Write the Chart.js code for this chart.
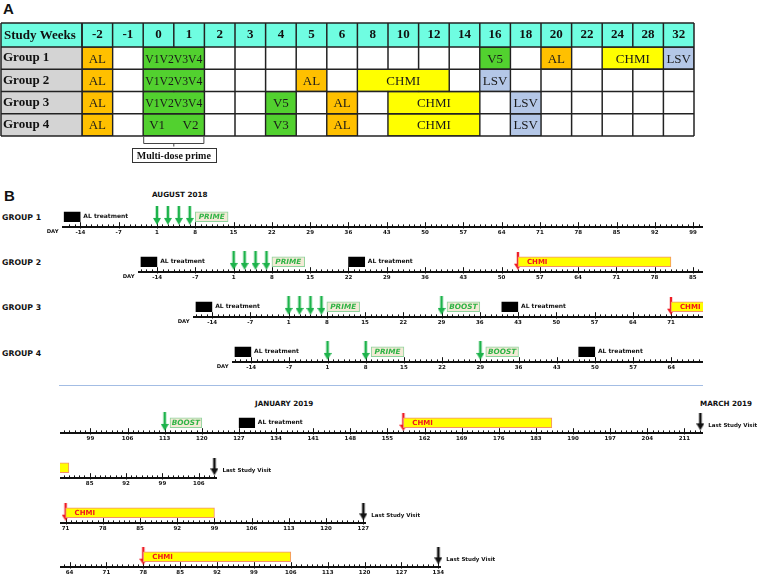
<!DOCTYPE html>
<html>
<head>
<meta charset="utf-8">
<script src="https://cdn.jsdelivr.net/npm/chart.js@4.4.1/dist/chart.umd.min.js"></script>
<style>
  body { margin: 0; background: #fff; }
  #page { position: relative; width: 763px; height: 586px; overflow: hidden; background: #fff; }
  #page canvas { position: absolute; left: 0; }
  .t { position: absolute; white-space: nowrap; font-weight: bold; color: #111; line-height: 1; font-family: 'DejaVu Sans', sans-serif; }
  .panel { font-family: 'Liberation Sans', Arial, sans-serif; font-size: 15px; }
  .grp { font-size: 7.8px; }
  .month { font-size: 7.2px; }
  #sep { position: absolute; left: 59px; top: 384.5px; width: 644px; height: 1.5px; background: #a3bde4; }
</style>
</head>
<body>
<div id="page">
  <div class="t panel" style="left:3px;top:0.7px;">A</div>
  <div class="t panel" style="left:4px;top:187.7px;">B</div>
  <div class="t month" style="left:152px;top:190.5px;">AUGUST 2018</div>
  <div class="t grp" style="left:2px;top:214.3px;">GROUP 1</div>
  <div class="t grp" style="left:2px;top:259.3px;">GROUP 2</div>
  <div class="t grp" style="left:2px;top:304.3px;">GROUP 3</div>
  <div class="t grp" style="left:2px;top:350.3px;">GROUP 4</div>
  <div id="sep"></div>
  <div class="t month" style="left:255px;top:399.5px;">JANUARY 2019</div>
  <div class="t month" style="left:700px;top:399.5px;">MARCH 2019</div>
</div>
<script>
// ---------- Panel A: schedule table (study weeks) ----------
const weeks = [-2, -1, 0, 1, 2, 3, 4, 5, 6, 8, 10, 12, 14, 16, 18, 20, 22, 24, 28, 32];
const groupsA = ['Group 1', 'Group 2', 'Group 3', 'Group 4'];
// [group, first week, last week, text]
const alCells = [
  ['Group 1', -2, -2, ['AL']], ['Group 1', 20, 20, ['AL']],
  ['Group 2', -2, -2, ['AL']], ['Group 2', 5, 5, ['AL']],
  ['Group 3', -2, -2, ['AL']], ['Group 3', 6, 6, ['AL']],
  ['Group 4', -2, -2, ['AL']], ['Group 4', 6, 6, ['AL']]
];
const vaccCells = [
  ['Group 1', 0, 1, ['V1V2V3V4']], ['Group 1', 16, 16, ['V5']],
  ['Group 2', 0, 1, ['V1V2V3V4']],
  ['Group 3', 0, 1, ['V1V2V3V4']], ['Group 3', 4, 4, ['V5']],
  ['Group 4', 0, 1, ['V1', 'V2']], ['Group 4', 4, 4, ['V3']]
];
const chmiCells = [
  ['Group 1', 24, 28, ['CHMI']], ['Group 2', 8, 12, ['CHMI']],
  ['Group 3', 10, 14, ['CHMI']], ['Group 4', 10, 14, ['CHMI']]
];
const lsvCells = [
  ['Group 1', 32, 32, ['LSV']], ['Group 2', 16, 16, ['LSV']],
  ['Group 3', 18, 18, ['LSV']], ['Group 4', 18, 18, ['LSV']]
];
const primeWeeks = [0, 1];

// ---------- Panel B: timelines (study days, no day 0) ----------
const alDays = [[[-17, -14], [127, 130]], [[-17, -14], [22, 25]], [[-17, -14], [40, 43]], [[-17, -14], [47, 50]]];
const vaccDays = [[1, 3, 5, 7, 113], [1, 3, 5, 7], [1, 3, 5, 7, 29], [1, 8, 29]];
const primeDays = [[8, 14], [8, 14], [8, 14], [9, 15]];
const boostDays = [[114, 120], null, [30, 36], [30, 36]];
const chmiDays = [[158, 186], [53, 81], [71, 99], [78, 106]];
const lastVisitDay = [214, 109, 127, 134];

// layout of the eight axis rows (axis range in axis units, pixels on the page)
const rowsB = [
  { g: 0, axisY: 227, from: -16.85, to: 99.3, left: 62, right: 703, day: true },
  { g: 1, axisY: 272, from: -17, to: 85.36, left: 138, right: 703, day: true },
  { g: 2, axisY: 317, from: -17, to: 75.36, left: 193, right: 703, day: true },
  { g: 3, axisY: 362, from: -17, to: 68.3, left: 232, right: 703, day: true },
  { g: 0, axisY: 433, from: 92.76, to: 213, left: 60, right: 703 },
  { g: 1, axisY: 478, from: 78.79, to: 108, left: 60, right: 217 },
  { g: 2, axisY: 523, from: 69.45, to: 126, left: 60, right: 366 },
  { g: 3, axisY: 567, from: 61.69, to: 133, left: 60, right: 441 }
];

const INK = '#111';
const LINE = '#222';
const HEADER_BG = '#6ffde1';
const LABEL_BG = '#d4d4d4';
const SANS = "'DejaVu Sans'";
const SERIF = "'Liberation Serif'";
const BOX_STYLE = {
  AL:    { fill: '#000000', border: '#000000' },
  PRIME: { fill: '#f3ead6', border: '#8fd39c' },
  BOOST: { fill: '#f3ead6', border: '#8fd39c' },
  CHMI:  { fill: '#ffff00', border: '#f3906c' }
};
const GREEN_TXT = '#2fb446';
const RED_TXT = '#f0141e';

const page = document.getElementById('page');
function addCanvas(top, w, h) {
  const c = document.createElement('canvas');
  c.width = w; c.height = h;
  c.style.top = top + 'px';
  c.style.width = w + 'px'; c.style.height = h + 'px';
  page.appendChild(c);
  return c;
}
function seg(ctx, x1, y1, x2, y2) {
  ctx.beginPath(); ctx.moveTo(x1, y1); ctx.lineTo(x2, y2); ctx.stroke();
}

// ================= Panel A =================
const TABLE_X = 1;
const tablePlugin = {
  id: 'tableGrid',
  beforeDraw(chart) {
    const { ctx, chartArea: a } = chart;
    const head = chart.scales.xTop;
    ctx.save();
    ctx.fillStyle = HEADER_BG;
    ctx.fillRect(TABLE_X, head.top, a.right - TABLE_X, head.bottom - head.top);
    ctx.fillStyle = LABEL_BG;
    ctx.fillRect(TABLE_X, a.top, a.left - TABLE_X, a.bottom - a.top);
    ctx.restore();
  },
  beforeDatasetsDraw(chart) {
    const { ctx, chartArea: a, scales: { x } } = chart;
    ctx.save();
    ctx.strokeStyle = LINE; ctx.lineWidth = 1.5;
    for (let i = 1; i < weeks.length; i++) {
      const px = x.getPixelForValue(i);
      seg(ctx, px, a.top, px, a.bottom);
    }
    ctx.restore();
  },
  afterDatasetsDraw(chart) {
    const { ctx, chartArea: a, scales: { x, y } } = chart;
    const head = chart.scales.xTop;
    ctx.save();
    // cell texts
    ctx.font = `13px ${SERIF}`;
    ctx.fillStyle = '#1a1a1a';
    ctx.textBaseline = 'middle';
    chart.data.datasets.forEach((ds, di) => {
      chart.getDatasetMeta(di).data.forEach((el, i) => {
        const text = ds.data[i].text;
        const l = Math.min(el.x, el.base), r = Math.max(el.x, el.base);
        if (text.length === 1) {
          ctx.textAlign = 'center';
          ctx.fillText(text[0], (l + r) / 2, el.y + 1, r - l - 4);
        } else {
          ctx.textAlign = 'left';
          ctx.fillText(text[0], l + 6, el.y + 1);
          ctx.textAlign = 'right';
          ctx.fillText(text[text.length - 1], r - 6, el.y + 1);
        }
      });
    });
    // lines that are never merged away
    ctx.strokeStyle = LINE; ctx.lineWidth = 1.5;
    for (let k = 0; k <= groupsA.length; k++) {
      const py = y.getPixelForValue(k - 0.5);
      seg(ctx, TABLE_X, py, a.right, py);
    }
    seg(ctx, TABLE_X, head.top, a.right, head.top);
    seg(ctx, TABLE_X, head.top, TABLE_X, a.bottom);
    seg(ctx, a.left, head.top, a.left, a.bottom);
    for (let i = 0; i <= weeks.length; i++) {
      const px = x.getPixelForValue(i);
      seg(ctx, px, head.top, px, (i === weeks.length) ? a.bottom : a.top);
    }
    // corner title
    ctx.font = `bold 13px ${SERIF}`;
    ctx.fillStyle = INK;
    ctx.textAlign = 'left';
    ctx.fillText('Study Weeks', TABLE_X + 3, (head.top + head.bottom) / 2 + 1);
    ctx.restore();
  },
  afterDraw(chart) {
    // bracket under the multi-dose prime columns
    const { ctx, chartArea: a, scales: { x } } = chart;
    const x0 = x.getPixelForValue(weeks.indexOf(primeWeeks[0]));
    const x1 = x.getPixelForValue(weeks.indexOf(primeWeeks[1]) + 1);
    const mid = (x0 + x1) / 2;
    ctx.save();
    ctx.strokeStyle = '#444'; ctx.lineWidth = 1;
    ctx.beginPath();
    ctx.moveTo(x0 + 0.5, a.bottom + 1); ctx.lineTo(x0 + 0.5, a.bottom + 7.5);
    ctx.lineTo(x1 - 0.5, a.bottom + 7.5); ctx.lineTo(x1 - 0.5, a.bottom + 1);
    ctx.moveTo(mid, a.bottom + 7.5); ctx.lineTo(mid, a.bottom + 10.5);
    ctx.stroke();
    ctx.font = `bold 10px ${SERIF}`;
    const w = ctx.measureText('Multi-dose prime').width + 10;
    ctx.strokeStyle = '#333';
    ctx.strokeRect(Math.round(mid - w / 2) + 0.5, a.bottom + 12.5, Math.round(w), 14);
    ctx.fillStyle = INK;
    ctx.textAlign = 'center'; ctx.textBaseline = 'middle';
    ctx.fillText('Multi-dose prime', mid, a.bottom + 20);
    ctx.restore();
  }
};

const cellSet = (cells, color) => ({
  data: cells.map(([g, a, b, text]) => ({ x: [weeks.indexOf(a), weeks.indexOf(b) + 1], y: g, text })),
  backgroundColor: color,
  borderColor: LINE,
  borderWidth: 1,
  borderSkipped: false,
  barPercentage: 1,
  categoryPercentage: 1,
  grouped: false
});

new Chart(addCanvas(21, 700, 148), {
  type: 'bar',
  data: {
    datasets: [
      cellSet(alCells, '#ffc000'),
      cellSet(vaccCells, '#52d12f'),
      cellSet(chmiCells, '#ffff00'),
      cellSet(lsvCells, '#b4c7e7')
    ]
  },
  options: {
    indexAxis: 'y',
    responsive: false,
    animation: false,
    events: [],
    layout: { padding: { left: 3, top: 2, right: 6, bottom: 33 } },
    plugins: { legend: { display: false }, tooltip: { enabled: false } },
    scales: {
      x: { type: 'linear', min: 0, max: weeks.length, display: false },
      xTop: {
        type: 'category', axis: 'x', position: 'top',
        labels: weeks.map(String), offset: true,
        grid: { display: false, drawTicks: false }, border: { display: false },
        ticks: { padding: 4.5, autoSkip: false, maxRotation: 0, color: INK,
                 font: { family: 'Liberation Serif', size: 13, weight: 'bold' } },
        afterFit: s => { s.height = 24; }
      },
      y: {
        type: 'category', labels: groupsA, offset: true,
        grid: { display: false, drawTicks: false }, border: { display: false },
        ticks: { crossAlign: 'far', padding: 0, color: INK,
                 font: { family: 'Liberation Serif', size: 13, weight: 'bold' } },
        afterFit: s => { s.width = 79; }
      }
    }
  },
  plugins: [tablePlugin]
});

// ================= Panel B =================
const toAxis = d => (d > 0 ? d - 1 : d);      // day 1 sits where day 0 would be
const dayLabel = u => String(u >= 0 ? u + 1 : u);
const LANE = 10;          // box centre, px above the axis line
const TIP_GAP = 3.5;

function arrowImage(color, w, h, shaft, head) {
  const c = document.createElement('canvas');
  c.width = w; c.height = h;
  const g = c.getContext('2d');
  g.fillStyle = color;
  g.fillRect((w - shaft) / 2, 0, shaft, h - head + 1);
  g.beginPath();
  g.moveTo(0, h - head); g.lineTo(w, h - head); g.lineTo(w / 2, h);
  g.closePath(); g.fill();
  return c;
}
const ARROWS = {
  vacc: arrowImage('#1db34b', 8, 19, 2.6, 7),
  chmi: arrowImage('#ee1c25', 8, 18, 2.4, 6),
  last: arrowImage('#111111', 8, 17, 2.6, 7)
};

const timelinePlugin = {
  id: 'timelineAxis',
  beforeDatasetsDraw(chart, args, opts) {
    const { ctx, chartArea: a, scales: { x } } = chart;
    const base = x.top;
    ctx.save();
    ctx.strokeStyle = INK;
    ctx.lineWidth = 1.8;
    seg(ctx, a.left, base, a.right, base);
    ctx.lineWidth = 1;
    x.ticks.forEach(t => {
      const px = Math.round(x.getPixelForValue(t.value)) + 0.5;
      const major = t.value % 7 === 0;
      seg(ctx, px, base + (major ? 1.5 : 0), px, base - (major ? 4.8 : 2.6));
    });
    if (opts.dayLabel) {
      ctx.font = `bold 5.3px ${SANS}`;
      ctx.fillStyle = INK;
      ctx.textAlign = 'right'; ctx.textBaseline = 'middle';
      ctx.fillText('DAY', a.left - 3.5, base + 5);
    }
    ctx.restore();
  },
  afterDatasetsDraw(chart) {
    const { ctx, chartArea: a, scales: { x } } = chart;
    const boxes = chart.data.datasets[0].data;
    ctx.save();
    ctx.textBaseline = 'middle';
    chart.getDatasetMeta(0).data.forEach((el, i) => {
      const kind = boxes[i].kind;
      const l = Math.min(el.x, el.base), r = Math.max(el.x, el.base);
      if (kind === 'AL') {
        if (r < a.left || r > a.right) return;
        ctx.font = `bold 6px ${SANS}`; ctx.fillStyle = INK; ctx.textAlign = 'left';
        ctx.fillText('AL treatment', r + 3, el.y);
      } else if (kind === 'CHMI') {
        if (l < a.left - 0.5 || l > a.right) return;
        ctx.font = `bold 7px ${SANS}`; ctx.fillStyle = RED_TXT; ctx.textAlign = 'left';
        ctx.fillText('CHMI', l + 9, el.y + 0.5);
      } else {
        if (l < a.left || r > a.right) return;
        ctx.font = `italic bold 7.3px ${SANS}`; ctx.fillStyle = GREEN_TXT; ctx.textAlign = 'center';
        ctx.fillText(kind, (l + r) / 2, el.y + 0.5);
      }
    });
    const pts = chart.data.datasets[1].data;
    chart.getDatasetMeta(1).data.forEach((el, i) => {
      if (pts[i].kind !== 'last') return;
      ctx.font = `bold 5.5px ${SANS}`; ctx.fillStyle = INK; ctx.textAlign = 'left';
      ctx.fillText('Last Study Visit', el.x + 8, x.top - 7);
    });
    ctx.restore();
  }
};

function drawTimeline(row) {
  const g = row.g;
  const boxes = [];
  alDays[g].forEach(r => boxes.push({ kind: 'AL', r }));
  boxes.push({ kind: 'PRIME', r: primeDays[g] });
  if (boostDays[g]) boxes.push({ kind: 'BOOST', r: boostDays[g] });
  boxes.push({ kind: 'CHMI', r: chmiDays[g] });
  const shownBoxes = boxes.filter(b => toAxis(b.r[1]) > row.from && toAxis(b.r[0]) < row.to);

  const arrows = vaccDays[g].map(d => ({ kind: 'vacc', d }));
  arrows.push({ kind: 'chmi', d: chmiDays[g][0] });
  arrows.push({ kind: 'last', d: lastVisitDay[g] });
  const shownArrows = arrows.filter(p => toAxis(p.d) >= row.from - 1e-6 && toAxis(p.d) <= row.to + 1e-6);

  new Chart(addCanvas(row.axisY - 30, 763, 42), {
    type: 'bar',
    data: {
      datasets: [
        {
          indexAxis: 'y',
          data: shownBoxes.map(b => ({ x: [toAxis(b.r[0]), toAxis(b.r[1])], y: LANE, kind: b.kind })),
          backgroundColor: shownBoxes.map(b => BOX_STYLE[b.kind].fill),
          borderColor: shownBoxes.map(b => BOX_STYLE[b.kind].border),
          borderWidth: 1,
          borderSkipped: false,
          barThickness: 10
        },
        {
          type: 'scatter',
          data: shownArrows.map(p => ({ x: toAxis(p.d), y: TIP_GAP + ARROWS[p.kind].height / 2, kind: p.kind })),
          pointStyle: shownArrows.map(p => ARROWS[p.kind]),
          pointRadius: 5,
          clip: false
        }
      ]
    },
    options: {
      responsive: false,
      animation: false,
      events: [],
      layout: { padding: { left: row.left, right: 763 - row.right, top: 2, bottom: 0 } },
      plugins: { legend: { display: false }, tooltip: { enabled: false }, timelineAxis: { dayLabel: !!row.day } },
      scales: {
        x: {
          type: 'linear', min: row.from, max: row.to,
          grid: { display: false, drawTicks: false }, border: { display: false },
          ticks: {
            autoSkip: false, maxRotation: 0, minRotation: 0, padding: 2, color: INK,
            font: { family: 'DejaVu Sans', size: 5.5, weight: 'bold' },
            callback: v => (v % 7 === 0 ? dayLabel(v) : '')
          },
          afterBuildTicks: s => {
            const t = [];
            for (let u = Math.ceil(row.from); u <= Math.floor(row.to); u++) t.push({ value: u });
            s.ticks = t;
          },
          afterFit: s => { s.height = 12; s.paddingLeft = 0; s.paddingRight = 0; }
        },
        y: { type: 'linear', min: 0, max: 28, display: false }
      }
    },
    plugins: [timelinePlugin]
  });
}
rowsB.forEach(drawTimeline);
</script>
</body>
</html>
